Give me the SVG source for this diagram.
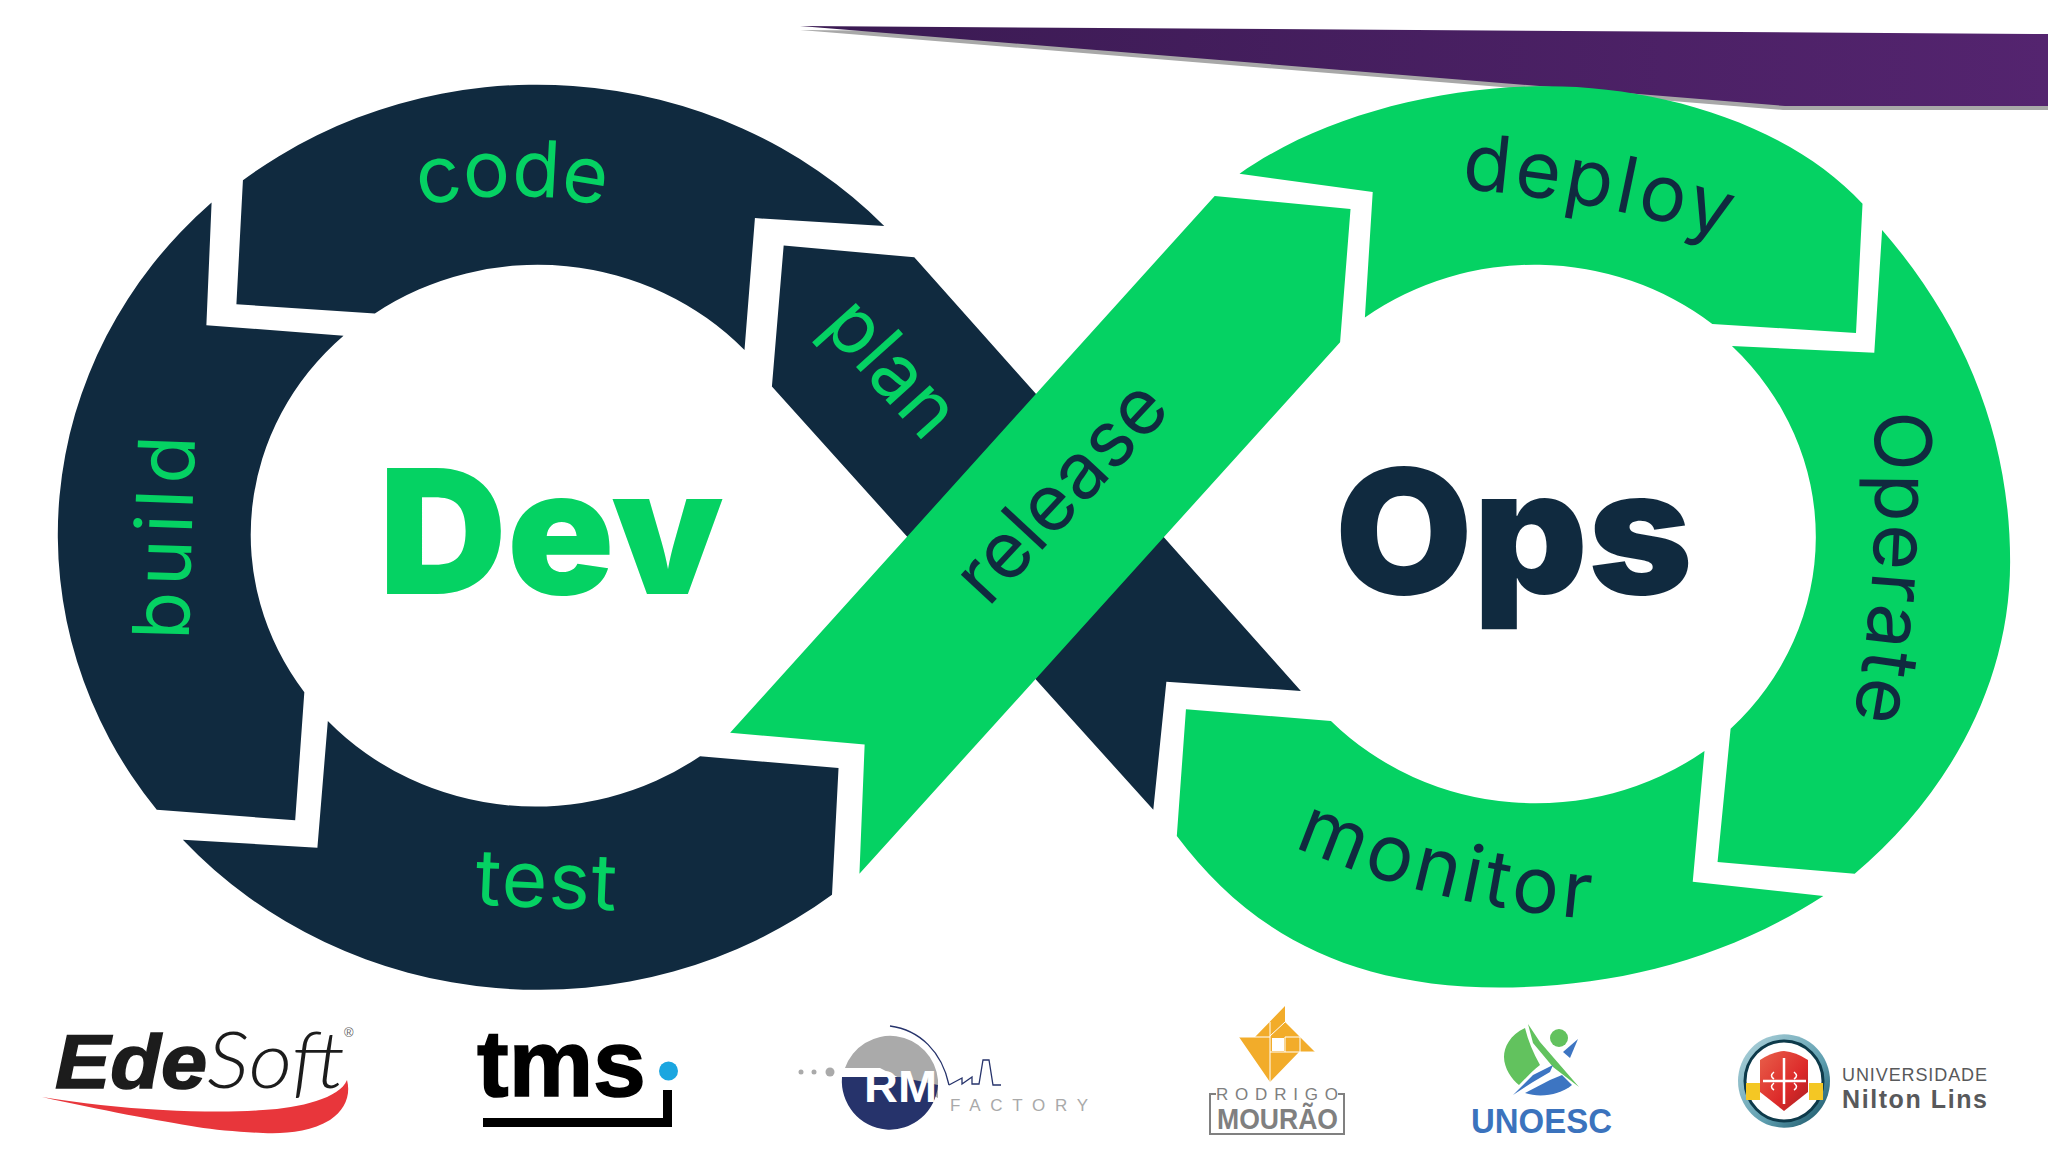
<svg xmlns="http://www.w3.org/2000/svg" width="2048" height="1152" viewBox="0 0 2048 1152">
<style>
.d{fill:#102a3f}.g{fill:#05d263}
.lb{font-family:Inter,"Open Sans",sans-serif;font-size:60px;font-weight:400}
.ld{fill:#05d263}.lg{fill:#102a3f}
.big{font-family:Inter,"Open Sans",sans-serif;font-size:133px;font-weight:900}
.s{font-family:"Liberation Sans",Arial,sans-serif}
</style>
<defs>
<linearGradient id="pu" x1="0" x2="1" y1="0" y2="0"><stop offset="0" stop-color="#3a1a52"/><stop offset="1" stop-color="#54246f"/></linearGradient>
<linearGradient id="rn" x1="0" x2="1" y1="0" y2="1"><stop offset="0" stop-color="#b5d6de"/><stop offset=".6" stop-color="#5f9fb0"/><stop offset="1" stop-color="#0f4a5c"/></linearGradient>
<linearGradient id="sh" x1="0" x2="1" y1="0" y2="1"><stop offset="0" stop-color="#e8604a"/><stop offset=".6" stop-color="#dd2a2a"/><stop offset="1" stop-color="#a81f22"/></linearGradient>
<path id="pc" d="M101,410 A291,260 0 0 1 683,410"/>
<path id="pd" d="M1083,142 C1173,147 1263,162 1358,194"/>
<path id="pb" d="M144,520 Q146,410 151,300"/>
<path id="pt" d="M298,690 L538,700"/>
<path id="po" d="M1433,286 C1439,386 1437,466 1413,581"/>
<path id="pm" d="M952,630 C1042,675 1132,700 1262,707"/>
</defs>
<rect width="2048" height="1152" fill="#fff"/>
<g id="banner">
<polygon points="800,30 2048,40 2048,110 1783,110" fill="#a8a8a8"/>
<polygon points="800,26 2048,34 2048,106 1785,106" fill="url(#pu)"/>
</g>
<g id="infinity" transform="scale(1.30612)">
<g id="node-code"><path class="d" d="M186,138 A366,346 0 0 1 677,173 L578,167 L570,268 A217,206 0 0 0 287,240 L181,233 Z"/><text class="lb ld"><textPath href="#pc" startOffset="50%" text-anchor="middle">code</textPath></text></g>
<g id="node-build"><path class="d" d="M162,155 A366,346 0 0 0 120,620 L226,628 L233,530 A217,206 0 0 1 263,257 L158,249 Z"/><text class="lb ld" letter-spacing="4.5"><textPath href="#pb" startOffset="50%" text-anchor="middle">build</textPath></text></g>
<g id="node-test"><path class="d" d="M251,552 A217,206 0 0 0 536,579 L642,588 L637,685 A366,346 0 0 1 140,643 L243,649 Z"/><text class="lb ld" letter-spacing="1"><textPath href="#pt" startOffset="50%" text-anchor="middle">test</textPath></text></g>
<g id="node-plan"><polygon class="d" points="600,188 700,197 996,529 893,522 883,620 591,296"/><text class="lb ld" transform="translate(668,295) rotate(48)" text-anchor="middle">plan</text></g>
<g id="node-release"><polygon class="g" points="930,150 1034,160 1026,262 658,669 662,570 559,561"/><text class="lb lg" transform="translate(827,390) rotate(-47)" text-anchor="middle">release</text></g>
<g id="node-deploy"><path class="g" d="M949,133 C1010,90 1100,66 1185,66 C1270,66 1370,95 1426,156 L1421,255 L1311,248 A218,206 0 0 0 1045,243 L1051,147 Z"/><text class="lb lg" letter-spacing="3"><textPath href="#pd" startOffset="50%" text-anchor="middle">deploy</textPath></text></g>
<g id="node-operate"><path class="g" d="M1441,176 C1505,250 1539,335 1539,430 C1539,525 1490,610 1420,669 L1315,660 L1325,558 A218,206 0 0 0 1326,265 L1435,270 Z"/><text class="lb lg" letter-spacing="1.5"><textPath href="#po" startOffset="50%" text-anchor="middle">Operate</textPath></text></g>
<g id="node-monitor"><path class="g" d="M1019,552 A218,206 0 0 0 1305,575 L1296,675 L1396,686 C1320,735 1235,756 1148,756 C1030,756 955,712 901,640 L908,543 Z"/><text class="lb lg" letter-spacing="3"><textPath href="#pm" startOffset="50%" text-anchor="middle">monitor</textPath></text></g>
<text id="dev" class="big" x="290" y="455" fill="#05d263" textLength="264" lengthAdjust="spacingAndGlyphs">Dev</text>
<text id="ops" class="big" x="1022" y="455" fill="#102a3f" textLength="274" lengthAdjust="spacingAndGlyphs">Ops</text>
</g>
<g id="logo-edesoft">
<path d="M42,1097 C80,1103 120,1108 163,1110 C200,1112 240,1112 263,1110 C300,1108 340,1098 347,1080 C351,1095 345,1110 330,1120 C310,1132 285,1134 263,1133 C240,1132 215,1130 197,1127 C160,1121 100,1110 42,1097Z" fill="#e8363b"/>
<text class="s" x="55" y="1088" font-size="76" font-weight="700" font-style="italic" fill="#1c1c1c" stroke="#1c1c1c" stroke-width="1.5" textLength="152" lengthAdjust="spacingAndGlyphs">Ede</text>
<text x="207" y="1088" font-family="Lato,'Liberation Sans',sans-serif" font-weight="300" font-size="78" font-style="italic" fill="#1c1c1c" textLength="138" lengthAdjust="spacingAndGlyphs">Soft</text>
<text class="s" x="344" y="1037" font-size="13" fill="#666">®</text>
</g>
<g id="logo-tms">
<text class="s" x="477" y="1096" font-size="95" font-weight="700" fill="#000" stroke="#000" stroke-width="1.5">tms</text>
<circle cx="668.5" cy="1071" r="9.5" fill="#1ba6e0"/>
<path d="M483,1118 H663 V1090 H672 V1127 H483 Z" fill="#000"/>
</g>
<g id="logo-factory">
<circle cx="801" cy="1072" r="2.5" fill="#aaa"/><circle cx="814" cy="1072" r="2.5" fill="#aaa"/><circle cx="830" cy="1072" r="4.5" fill="#aaa"/>
<path d="M845,1068 A48,48.5 0 0 1 938,1080 L938,1098 L880,1068 Z" fill="#aaa"/>
<path d="M842,1077 H900 L938,1085 A48,48.5 0 1 1 842,1077 Z" fill="#26336b"/>
<path d="M890,1026 C920,1030 942,1052 949,1085" fill="none" stroke="#26336b" stroke-width="1.3"/>
<path d="M949,1085 L962,1078 V1084 L972,1077 V1084 H979 L983,1060 H989 L993,1085 H1001" fill="none" stroke="#26336b" stroke-width="1.3"/>
<text class="s" x="864" y="1102" font-size="45" font-weight="700" fill="#fff" textLength="73" lengthAdjust="spacingAndGlyphs">RM</text>
<text class="s" x="950" y="1111" font-size="17" fill="#a9a9a9" textLength="138">FACTORY</text>
</g>
<g id="logo-mourao">
<polygon points="1285,1006 1255,1037 1239,1037 1270,1082 1299,1052 1315,1052 1285,1022" fill="#f2ac2a"/>
<rect x="1272" y="1038" width="12" height="13" fill="#fff"/>
<path d="M1270,1022 V1082 M1285,1022 L1270,1036 M1239,1037 H1270 M1285,1037 H1300 V1052 M1270,1052 H1315 M1285,1037 V1052" stroke="#fff" stroke-width="1" fill="none"/>
<text class="s" x="1216" y="1100" font-size="17" fill="#808080" textLength="122">RODRIGO</text>
<text class="s" x="1217" y="1129" font-size="29" font-weight="700" fill="#808080" textLength="121" lengthAdjust="spacingAndGlyphs">MOURÃO</text>
<path d="M1216,1094 H1210 V1134 H1344 V1094 H1338" fill="none" stroke="#808080" stroke-width="2"/>
</g>
<g id="logo-unoesc">
<path d="M1525,1028 C1510,1035 1504,1047 1504,1057 C1504,1068 1512,1080 1519,1085 C1527,1077 1533,1070 1540,1065 C1533,1053 1528,1040 1525,1028Z" fill="#62c25e"/>
<path d="M1528,1024 L1540,1042 L1579,1087 L1553,1067 L1533,1043 Z" fill="#62c25e"/>
<circle cx="1559" cy="1038" r="9" fill="#62c25e"/>
<path d="M1513,1095 L1533,1075 L1553,1065 L1550,1072 L1533,1082 Z" fill="#3d75c2"/>
<path d="M1525,1093 L1550,1080 L1562,1075 L1572,1085 C1560,1095 1540,1098 1525,1093Z" fill="#3d75c2"/>
<path d="M1578,1039 L1570,1058 L1563,1052Z" fill="#3d75c2"/>
<text class="s" x="1471" y="1133" font-size="35" font-weight="700" fill="#3b73bd" textLength="141" lengthAdjust="spacingAndGlyphs">UNOESC</text>
</g>
<g id="logo-nilton">
<ellipse cx="1784" cy="1081" rx="46" ry="46.7" fill="url(#rn)"/>
<ellipse cx="1784" cy="1081" rx="39" ry="40" fill="#fff" stroke="#0d3a4a" stroke-width="3"/>
<rect x="1746" y="1083" width="14" height="17" fill="#f4c724"/><rect x="1809" y="1083" width="14" height="17" fill="#f4c724"/>
<path d="M1760,1060 Q1772,1052 1784,1051 Q1796,1052 1808,1060 V1092 L1784,1111 L1760,1092 Z" fill="url(#sh)"/>
<path d="M1784,1058 V1104 M1763,1081 H1806" stroke="#fff" stroke-width="2.5" fill="none"/>
<path d="M1774,1072 q-5,4 0,7 M1794,1072 q5,4 0,7 M1774,1083 q-5,4 0,7 M1794,1083 q5,4 0,7" stroke="#fff" stroke-width="1.5" fill="none"/>
<text class="s" x="1842" y="1081" font-size="18" fill="#58595b" textLength="145">UNIVERSIDADE</text>
<text class="s" x="1842" y="1108" font-size="25" font-weight="700" fill="#58595b" textLength="145">Nilton Lins</text>
</g>
</svg>
